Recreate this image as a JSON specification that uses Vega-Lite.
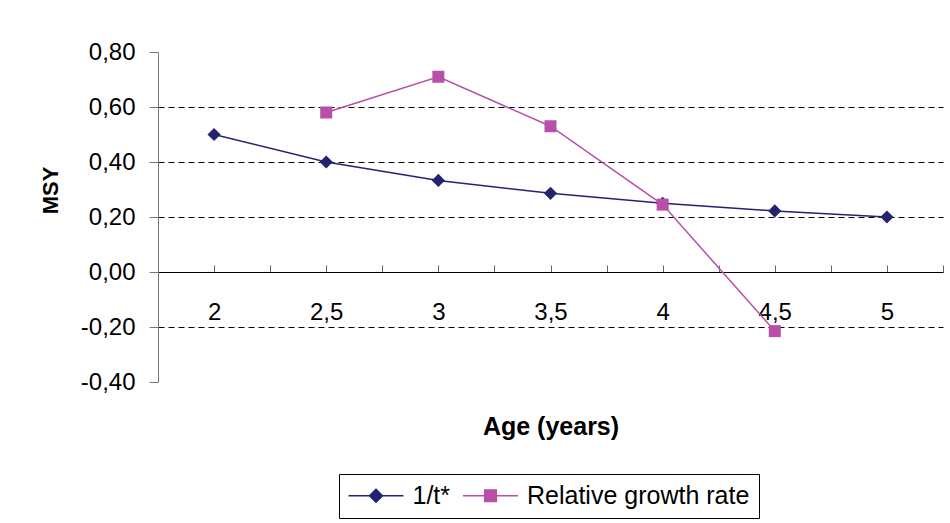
{
  "$schema": "https://vega.github.io/schema/vega-lite/v6.json",
  "width": 785,
  "height": 330,
  "autosize": {"type": "none"},
  "padding": {"left": 158, "top": 52, "right": 7, "bottom": 141},
  "background": "white",
  "config": {"view": {"stroke": null}, "font": "Liberation Sans"},
  "data": {
    "values": [
      {"series": "1/t*", "age": 2, "value": 0.5},
      {"series": "1/t*", "age": 2.5, "value": 0.4},
      {"series": "1/t*", "age": 3, "value": 0.333},
      {"series": "1/t*", "age": 3.5, "value": 0.286},
      {"series": "1/t*", "age": 4, "value": 0.25},
      {"series": "1/t*", "age": 4.5, "value": 0.222},
      {"series": "1/t*", "age": 5, "value": 0.2},
      {"series": "Relative growth rate", "age": 2.5, "value": 0.58},
      {"series": "Relative growth rate", "age": 3, "value": 0.71},
      {"series": "Relative growth rate", "age": 3.5, "value": 0.53},
      {"series": "Relative growth rate", "age": 4, "value": 0.245},
      {"series": "Relative growth rate", "age": 4.5, "value": -0.215}
    ]
  },
  "encoding": {
    "x": {
      "field": "age",
      "type": "quantitative",
      "scale": {"domain": [1.75, 5.25], "nice": false, "zero": false},
      "axis": {
        "title": "Age (years)",
        "titleFont": "Liberation Sans",
        "titleFontSize": 25,
        "titleFontWeight": "bold",
        "titleColor": "black",
        "titleY": 162,
        "titleBaseline": "alphabetic",
        "values": [1.75, 2, 2.25, 2.5, 2.75, 3, 3.25, 3.5, 3.75, 4, 4.25, 4.5, 4.75, 5, 5.25],
        "labelExpr": "(datum.value*2)%1===0 ? replace(toString(datum.value),'.',',') : ''",
        "labelFont": "Liberation Sans",
        "labelFontSize": 24,
        "labelColor": "black",
        "labelOverlap": false,
        "labelFlush": false,
        "labelPadding": 35,
        "tickSize": -7,
        "tickColor": "#666666",
        "domainColor": "black",
        "offset": -110,
        "grid": false
      }
    },
    "y": {
      "field": "value",
      "type": "quantitative",
      "scale": {"domain": [-0.4, 0.8], "nice": false, "zero": false},
      "axis": {
        "title": "MSY",
        "titleFont": "Liberation Sans",
        "titleFontSize": 22,
        "titleFontWeight": "bold",
        "titleColor": "black",
        "titleX": -108,
        "titleY": 138,
        "titleAngle": -90,
        "titleAlign": "center",
        "titleBaseline": "middle",
        "values": [-0.4, -0.2, 0, 0.2, 0.4, 0.6, 0.8],
        "labelExpr": "replace(replace(format(datum.value,'.2f'),'.',','),'\u2212','-')",
        "labelFont": "Liberation Sans",
        "labelFontSize": 24,
        "labelColor": "black",
        "labelPadding": 14,
        "tickSize": 9,
        "tickColor": "#777777",
        "domainColor": "#777777",
        "grid": true,
        "gridColor": "black",
        "gridDash": [6, 4],
        "gridOpacity": {"condition": {"test": "datum.value === 0.8 || datum.value === -0.4 || datum.value === 0", "value": 0}, "value": 1}
      }
    }
  },
  "layer": [
    {
      "mark": {"type": "line", "strokeWidth": 1.5},
      "encoding": {
        "color": {
          "field": "series",
          "type": "nominal",
          "scale": {"domain": ["1/t*", "Relative growth rate"], "range": ["#232370", "#b94fa8"]},
          "legend": {
            "orient": "none",
            "legendX": 181,
            "legendY": 422,
            "direction": "horizontal",
            "title": null,
            "labelFont": "Liberation Sans",
            "labelFontSize": 25,
            "labelColor": "black",
            "labelLimit": 400,
            "symbolSize": 169,
            "symbolOffset": 15.5,
            "labelOffset": 24,
            "columnPadding": 8.5,
            "padding": 9,
            "strokeColor": "#000000",
            "symbolStrokeWidth": 1.5
          }
        }
      }
    },
    {
      "transform": [{"filter": "datum.value > 5"}],
      "mark": {"type": "point", "filled": true, "opacity": 1, "size": 169},
      "encoding": {
        "color": {"field": "series", "type": "nominal"},
        "shape": {
          "field": "series",
          "type": "nominal",
          "scale": {"domain": ["1/t*", "Relative growth rate"], "range": ["M-4.23,0H4.23M0,-1L1,0L0,1L-1,0Z", "M-4.23,0H4.23M-0.9,-0.9H0.9V0.9H-0.9Z"]},
          "legend": null
        }
      }
    },
    {
      "transform": [{"filter": "datum.series === '1/t*'"}],
      "mark": {"type": "point", "filled": true, "opacity": 1, "size": 175, "shape": "diamond", "color": "#232370"}
    },
    {
      "transform": [{"filter": "datum.series === 'Relative growth rate'"}],
      "mark": {"type": "point", "filled": true, "opacity": 1, "size": 144, "shape": "square", "color": "#b94fa8"}
    }
  ]
}
